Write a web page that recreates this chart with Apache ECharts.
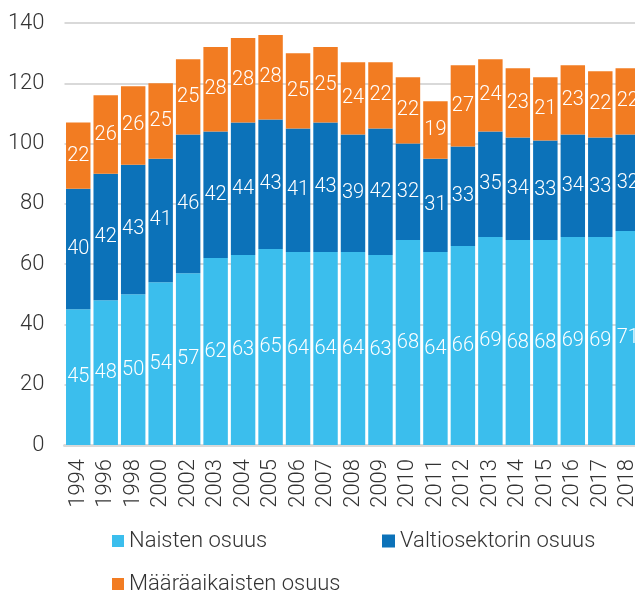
<!DOCTYPE html>
<html>
<head>
<meta charset="utf-8">
<script src="https://cdn.jsdelivr.net/npm/echarts@6/dist/echarts.min.js"></script>
<style>
html,body{margin:0;padding:0;background:#fff;overflow:hidden;width:635px;height:591px;}
#c{width:660px;height:591px;}
</style>
</head>
<body>
<div id="c"></div>
<script>
const categories = ['1994','1996','1998','2000','2002','2003','2004','2005','2006','2007','2008','2009','2010','2011','2012','2013','2014','2015','2016','2017','2018'];
const naisten = [45,48,50,54,57,62,63,65,64,64,64,63,68,64,66,69,68,68,69,69,71];
const valtio = [40,42,43,41,46,42,44,43,41,43,39,42,32,31,33,35,34,33,34,33,32];
const maaraaik = [22,26,26,25,25,28,28,28,25,25,24,22,22,19,27,24,23,21,23,22,22];
const seriesNames = ['Naisten osuus','Valtiosektorin osuus','Määräaikaisten osuus'];
const colors = ['#3BBEED','#0C72B9','#F27C22'];

const font = 'Roboto';
const chart = echarts.init(document.getElementById('c'));
const labelStyle = {show:true, position:'inside', color:'#fff', fontSize:20, fontWeight:300, fontFamily:font};
const mk = (i, data) => ({
  name: seriesNames[i], type:'bar', stack:'s', data: data,
  itemStyle:{color:colors[i]}, label:labelStyle, barCategoryGap:'11%'
});
const legText = {fontSize:22, color:'#333', fontWeight:300, fontFamily:font};
chart.setOption({
  animation:false,
  textStyle:{fontFamily:font},
  grid:{left:64.5, width:577, top:23, height:422, containLabel:false},
  legend:[
    {data:[seriesNames[0]], left:112, top:530, itemWidth:12, itemHeight:12, icon:'rect', padding:0, textStyle:legText},
    {data:[seriesNames[1]], left:382, top:530, itemWidth:13, itemHeight:13, icon:'rect', padding:0, textStyle:legText},
    {data:[seriesNames[2]], left:112, top:573, itemWidth:12, itemHeight:12, icon:'rect', padding:0, textStyle:legText}
  ],
  xAxis:{
    type:'category', data:categories,
    axisTick:{show:false},
    axisLine:{lineStyle:{color:'#d9d9d9', width:3}},
    axisLabel:{rotate:90, interval:0, fontSize:22, color:'#333', margin:14, fontWeight:300, fontFamily:font}
  },
  yAxis:{
    type:'value', min:0, max:140, interval:20,
    axisLine:{show:false}, axisTick:{show:false},
    axisLabel:{fontSize:22, color:'#333', margin:20, fontWeight:300, fontFamily:font},
    splitLine:{lineStyle:{color:'#d9d9d9', width:2}}
  },
  series:[mk(0,naisten), mk(1,valtio), mk(2,maaraaik)]
});
</script>
</body>
</html>
